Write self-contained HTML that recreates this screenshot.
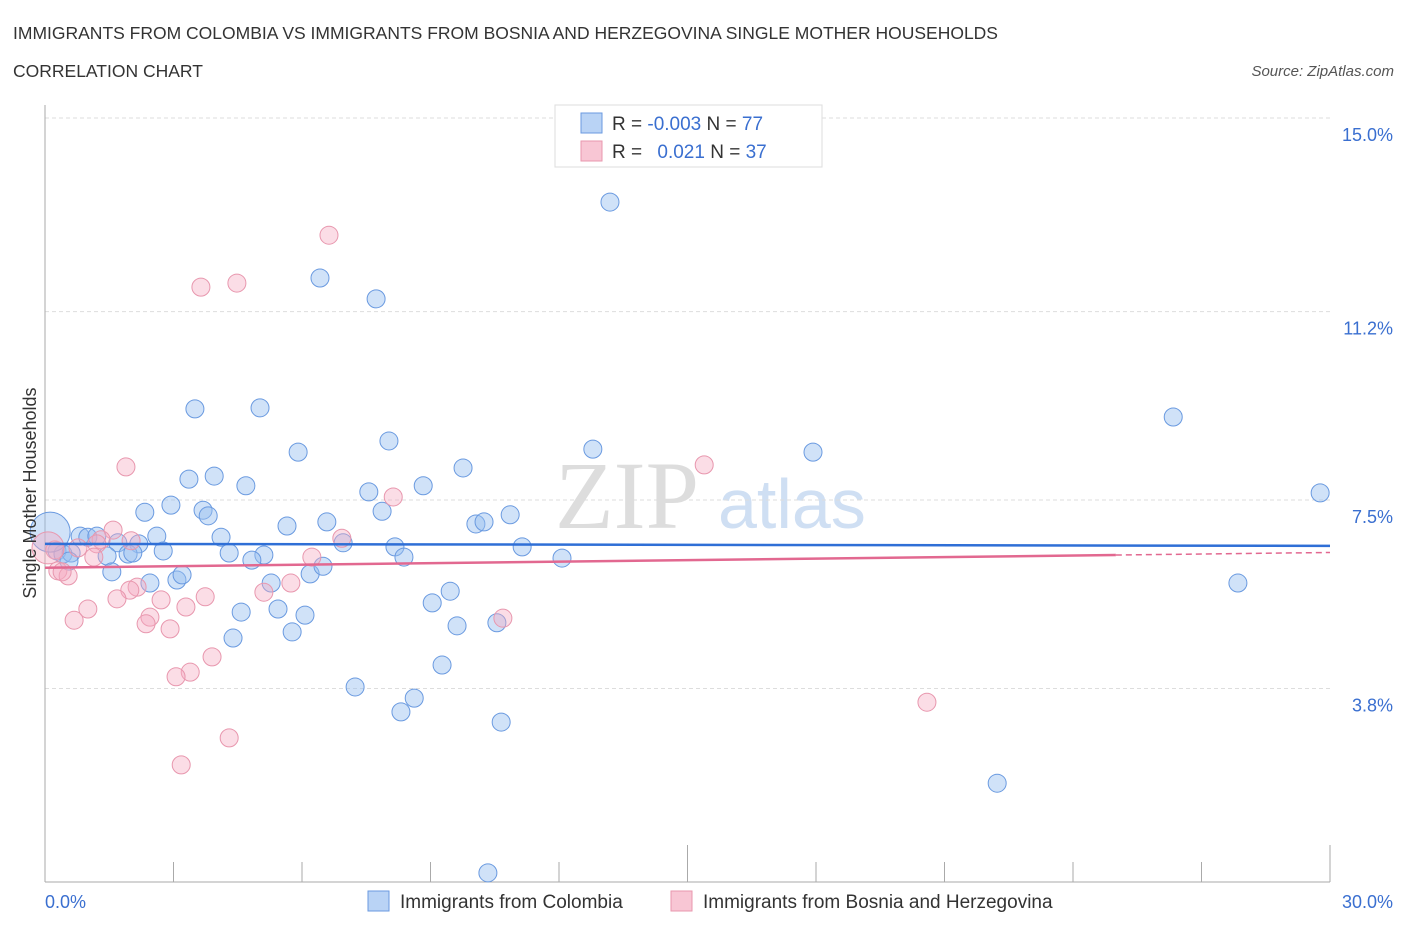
<!DOCTYPE html>
<html><head><meta charset="utf-8"><style>
body{margin:0;background:#fff;font-family:"Liberation Sans",sans-serif;}
svg{display:block}
</style></head><body>
<svg id="chart" width="1406" height="930" xmlns="http://www.w3.org/2000/svg">
<text x="13" y="39" font-size="17.5" fill="#333">IMMIGRANTS FROM COLOMBIA VS IMMIGRANTS FROM BOSNIA AND HERZEGOVINA SINGLE MOTHER HOUSEHOLDS</text>
<text x="13" y="77" font-size="17.5" fill="#333">CORRELATION CHART</text>
<text x="1394" y="76" font-size="15" fill="#555" font-style="italic" text-anchor="end">Source: ZipAtlas.com</text>
<g>
<text x="555" y="528" font-size="96" font-family="Liberation Serif,serif" fill="#ddd">ZIP</text>
<text x="718" y="528" font-size="70" fill="#cfdff3">atlas</text>
</g>
<g id="grid"></g>
<g id="axes"></g>
<g id="marks"></g>
<g id="trends"></g>
<text x="36" y="493" font-size="18" fill="#333" text-anchor="middle" transform="rotate(-90 36 493)">Single Mother Households</text>
<g>
<rect x="555" y="105" width="267" height="62" fill="#fff" stroke="#ddd"/>
<rect x="581" y="113" width="21" height="20" fill="#b9d3f5" stroke="#6a9ae0"/>
<rect x="581" y="141" width="21" height="20" fill="#f8c6d4" stroke="#e897ae"/>
<text x="612" y="130" font-size="19" fill="#333">R = <tspan fill="#3a6fd0">-0.003</tspan>   N = <tspan fill="#3a6fd0">77</tspan></text>
<text x="612" y="158" font-size="19" fill="#333">R =   <tspan fill="#3a6fd0" dx="10">0.021</tspan>   N = <tspan fill="#3a6fd0">37</tspan></text>
</g>
<g>
<rect x="368" y="891" width="21" height="20" fill="#b9d3f5" stroke="#6a9ae0"/>
<text x="400" y="908" font-size="19" fill="#333">Immigrants from Colombia</text>
<rect x="671" y="891" width="21" height="20" fill="#f8c6d4" stroke="#e897ae"/>
<text x="703" y="908" font-size="19" fill="#333">Immigrants from Bosnia and Herzegovina</text>
</g>
</svg>
<script>
const blueX=[13.19,6.42,7.73,3.50,5.02,8.03,5.91,12.79,17.93,26.34,29.77,9.76,3.95,3.36,4.69,8.83,7.56,2.33,2.94,3.69,3.81,7.87,6.58,5.65,10.86,10.06,10.25,0.82,1.00,1.21,1.70,2.19,2.61,4.11,6.96,8.17,11.14,0.28,0.42,0.61,1.45,1.94,2.05,2.76,4.30,5.11,4.83,8.38,12.07,0.56,1.56,2.45,3.08,3.20,5.28,6.19,6.49,27.85,9.46,9.04,5.44,6.07,4.58,9.62,10.55,5.77,4.39,9.27,7.24,8.62,8.31,10.65,22.23,10.34,0.12];
const blueY=[13.35,11.86,11.45,9.29,9.31,8.66,8.44,8.50,8.44,9.13,7.64,8.13,7.97,7.91,7.78,7.78,7.66,7.26,7.40,7.30,7.19,7.28,7.07,6.99,7.21,7.03,7.07,6.79,6.77,6.79,6.66,6.64,6.79,6.77,6.66,6.58,6.58,6.50,6.44,6.46,6.40,6.44,6.46,6.50,6.46,6.42,6.32,6.38,6.36,6.30,6.09,5.87,5.93,6.03,5.87,6.05,6.20,5.87,5.71,5.48,5.36,5.24,5.30,5.03,5.09,4.91,4.79,4.26,3.83,3.61,3.34,3.14,1.94,0.18,6.87];
const pinkX=[6.63,4.48,3.64,1.89,15.39,8.13,1.59,6.93,2.01,1.31,0.77,1.21,0.23,6.23,1.14,0.30,0.54,0.40,5.74,2.15,1.98,5.11,3.74,1.68,2.71,1.00,3.29,2.45,0.68,10.69,2.36,2.92,3.90,3.39,3.06,20.59,4.30,3.18,0.07];
const pinkY=[12.70,11.76,11.68,8.15,8.19,7.56,6.91,6.75,6.70,6.72,6.56,6.64,6.52,6.38,6.38,6.11,6.01,6.09,5.87,5.79,5.73,5.69,5.60,5.56,5.54,5.36,5.40,5.20,5.14,5.18,5.07,4.97,4.42,4.12,4.03,3.53,2.83,2.30,6.56];
const yTicks=[15.0,11.2,7.5,3.8];
const yTickLabels=["15.0%","11.2%","7.5%","3.8%"];
const xTickVals=[0,3,6,9,12,15,18,21,24,27,30];
const blueTrend=[6.64,6.60];
const pinkTrend=[6.17,6.47];
const pinkSolidEnd=25;

const NS="http://www.w3.org/2000/svg";
const sx=v=>45+v*(1285/30);
const sy=v=>882-v*50.93;
function mk(tag,attrs,parent){const e=document.createElementNS(NS,tag);for(const k in attrs)e.setAttribute(k,attrs[k]);parent.appendChild(e);return e;}
const grid=document.getElementById('grid'),axes=document.getElementById('axes'),marks=document.getElementById('marks'),trends=document.getElementById('trends');
yTicks.forEach((t,i)=>{
 const l=mk('line',{x1:45,x2:1330,y1:sy(t),y2:sy(t),stroke:'#ddd','stroke-dasharray':'4,3'},grid);
 
 
 const tx=mk('text',{x:1393,y:sy(t)+23,'font-size':18,fill:'#3a6fd0','text-anchor':'end'},axes);
 tx.textContent=yTickLabels[i];
 
 
});
const ya=mk('line',{x1:45,x2:45,y1:105,y2:882,stroke:'#aaa'},axes);


const xa=mk('line',{x1:45,x2:1330,y1:882,y2:882,stroke:'#aaa'},axes);


xTickVals.forEach((t,i)=>{
 const tall=(i===0||i===5||i===10);
 const l=mk('line',{x1:sx(t),x2:sx(t),y1:tall?845:862,y2:882,stroke:'#aaa'},axes);
 
 
});
const xl0=mk('text',{x:45,y:908,'font-size':18,fill:'#3a6fd0'},axes);xl0.textContent='0.0%';


const xl1=mk('text',{x:1393,y:908,'font-size':18,fill:'#3a6fd0','text-anchor':'end'},axes);xl1.textContent='30.0%';


blueX.forEach((x,i)=>{
 const big=i===blueX.length-1;
 const c=mk('circle',{cx:sx(x),cy:sy(blueY[i]),r:big?20:9,fill:'rgba(150,190,240,0.45)',stroke:'#6a9ae0','stroke-width':1},marks);
 
 
});
pinkX.forEach((x,i)=>{
 const big=i===pinkX.length-1;
 const c=mk('circle',{cx:sx(x),cy:sy(pinkY[i]),r:big?16:9,fill:'rgba(245,170,192,0.4)',stroke:'#e897ae','stroke-width':1},marks);
 
 
});
const bl=mk('line',{x1:sx(0),x2:sx(30),y1:sy(blueTrend[0]),y2:sy(blueTrend[1]),stroke:'#2f6fd6','stroke-width':2.5},trends);


const pm=pinkTrend[0]+(pinkTrend[1]-pinkTrend[0])*pinkSolidEnd/30;
const pl=mk('line',{x1:sx(0),x2:sx(pinkSolidEnd),y1:sy(pinkTrend[0]),y2:sy(pm),stroke:'#e26890','stroke-width':2.5},trends);


const pd=mk('line',{x1:sx(pinkSolidEnd),x2:sx(30),y1:sy(pm),y2:sy(pinkTrend[1]),stroke:'#e26890','stroke-width':1.5,'stroke-dasharray':'6,4'},trends);


</script>
</body></html>
